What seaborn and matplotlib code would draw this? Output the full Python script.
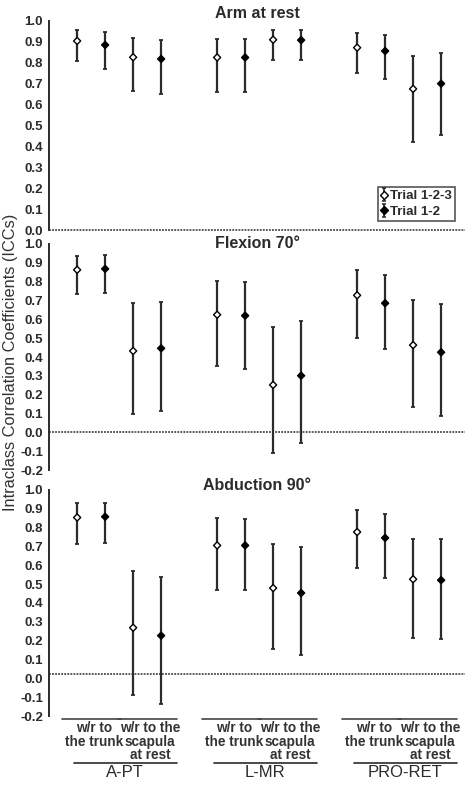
import numpy as np
import pandas as pd
import matplotlib
matplotlib.use("Agg")
import matplotlib.pyplot as plt
import matplotlib.transforms as mtransforms
from matplotlib.lines import Line2D
import seaborn as sns

# ─── Data ───
muscles = ["A-PT", "L-MR", "PRO-RET"]
references = ["w/r to\nthe trunk", "w/r to the\nscapula\nat rest"]
trials = ["Trial 1-2-3", "Trial 1-2"]
panels = ["Arm at rest", "Flexion 70°", "Abduction 90°"]

# order: muscle -> reference -> trial
rest_icc = [0.904, 0.885, 0.826, 0.818, 0.825, 0.825, 0.910, 0.908, 0.872, 0.856, 0.675, 0.700]
rest_lo = [0.809, 0.769, 0.667, 0.652, 0.660, 0.660, 0.815, 0.815, 0.750, 0.720, 0.422, 0.455]
rest_hi = [0.956, 0.945, 0.916, 0.910, 0.913, 0.913, 0.957, 0.957, 0.940, 0.932, 0.834, 0.845]

flex_icc = [0.862, 0.867, 0.432, 0.446, 0.624, 0.619, 0.252, 0.301, 0.727, 0.685, 0.463, 0.425]
flex_lo = [0.733, 0.741, 0.100, 0.112, 0.350, 0.339, -0.107, -0.056, 0.502, 0.441, 0.133, 0.086]
flex_hi = [0.934, 0.942, 0.684, 0.691, 0.802, 0.799, 0.558, 0.593, 0.860, 0.837, 0.703, 0.680]

abd_icc = [0.853, 0.857, 0.269, 0.227, 0.705, 0.705, 0.479, 0.453, 0.776, 0.745, 0.526, 0.521]
abd_lo = [0.715, 0.719, -0.089, -0.135, 0.470, 0.470, 0.154, 0.122, 0.586, 0.531, 0.215, 0.208]
abd_hi = [0.928, 0.932, 0.570, 0.540, 0.850, 0.844, 0.712, 0.698, 0.891, 0.871, 0.740, 0.740]

zero_lines = [0.0, 0.0, 0.023]


def long_frame(icc, lo, hi):
    rows = []
    i = 0
    for m in range(len(muscles)):
        for r in range(len(references)):
            for t in range(len(trials)):
                rows.append({"pos": m * 5 + r * 2 + t, "trial": trials[t],
                             "icc": icc[i], "lo": lo[i], "hi": hi[i]})
                i += 1
    return pd.DataFrame(rows)


frames = [long_frame(rest_icc, rest_lo, rest_hi),
          long_frame(flex_icc, flex_lo, flex_hi),
          long_frame(abd_icc, abd_lo, abd_hi)]

# ─── Plot ───
sns.set_style("white")
plt.rcParams['font.family'] = ['Liberation Sans', 'DejaVu Sans']
dark = "#2b2b2b"

fig = plt.figure(figsize=(4.68, 8.01), dpi=100)
rects = [[0.105, 0.7116, 0.889, 0.2634],
         [0.105, 0.4120, 0.889, 0.2846],
         [0.105, 0.1049, 0.889, 0.2846]]
ylims = [(0.0, 1.0), (-0.2, 1.0), (-0.2, 1.0)]
title_y = [1.035, 1.0, 1.025]

axes = []
for k, rect in enumerate(rects):
    ax = fig.add_axes(rect)
    axes.append(ax)
    df = frames[k]
    for trial in trials:
        d = df[df["trial"] == trial]
        ax.errorbar(d["pos"], d["icc"],
                    yerr=[d["icc"] - d["lo"], d["hi"] - d["icc"]],
                    fmt="none", ecolor=dark, elinewidth=1.6, capsize=1.7,
                    capthick=1.3, zorder=2)
    sns.scatterplot(data=df, x="pos", y="icc", hue="trial", style="trial",
                    markers={trials[0]: "D", trials[1]: "D"},
                    palette={trials[0]: "white", trials[1]: "black"},
                    edgecolor="black", linewidth=1.0, s=13, legend=False,
                    ax=ax, zorder=3)
    ax.axhline(zero_lines[k], color=dark, linestyle=(0, (1.2, 0.8)), lw=1.1, zorder=1)
    lo, hi = ylims[k]
    ax.set_ylim(lo - 0.004, hi + 0.004)
    ax.set_xlim(-1.0, 13.86)
    ax.set_yticks(np.round(np.arange(lo, hi + 0.01, 0.1), 1))
    ax.yaxis.set_major_formatter(matplotlib.ticker.FormatStrFormatter("%.1f"))
    ax.set_xticks([])
    ax.set_xlabel("")
    ax.set_ylabel("")
    for s in ["top", "right", "bottom"]:
        ax.spines[s].set_visible(False)
    ax.spines["left"].set_bounds(lo, hi)
    ax.spines["left"].set_color(dark)
    ax.spines["left"].set_linewidth(1.4)
    ax.tick_params(axis="y", direction="out", length=3, width=1.0, color=dark,
                   labelsize=9.5, labelcolor=dark, pad=1.5)
    for lbl in ax.get_yticklabels():
        lbl.set_fontweight("bold")
    ax.patch.set_alpha(0)
    ax.text(0.5, title_y[k], panels[k],
            transform=mtransforms.blended_transform_factory(ax.transAxes, ax.transData),
            ha="center", va="center", fontsize=11.5, fontweight="bold", color=dark)

# legend in first panel
ax0 = axes[0]
proxies = []
for t, fc in zip(trials, ["white", "black"]):
    eb = ax0.errorbar([np.nan], [np.nan], yerr=[[0.1]], fmt="none", ecolor=dark,
                      elinewidth=1.3, capsize=1.5, capthick=1.1)
    mk = Line2D([], [], marker="D", linestyle="none", markersize=3.6,
                markerfacecolor=fc, markeredgecolor="black", markeredgewidth=1.0)
    proxies.append((eb, mk))
leg = ax0.legend(proxies, trials, loc="lower left", bbox_to_anchor=(0.79, 0.047),
                 frameon=True, fancybox=False, handlelength=0.5, handletextpad=0.15,
                 borderpad=0.25, labelspacing=0.25, borderaxespad=0,
                 prop={"weight": "bold", "size": 9.5})
leg.get_frame().set_edgecolor(dark)
leg.get_frame().set_linewidth(1.2)
for txt in leg.get_texts():
    txt.set_color(dark)

# category labels under the last panel
ax3 = axes[2]
trans = mtransforms.blended_transform_factory(ax3.transData, ax3.transAxes)
for m, muscle in enumerate(muscles):
    g = m * 5
    for r, ref in enumerate(references):
        start = g + r * 2
        ax3.plot([start - 0.55, start + 1.55], [-0.009, -0.009], color="#444444", lw=1.2,
                 transform=trans, clip_on=False)
        ax3.text(start + 0.6, -0.018, ref, transform=trans, ha="center", va="top",
                 fontsize=9.8, fontweight="bold", color="#333333", linespacing=0.95,
                 multialignment="center")
    ax3.plot([g - 0.1, g + 3.55], [-0.202, -0.202], color=dark, lw=1.2,
             transform=trans, clip_on=False)
    ax3.text(g + 1.7, -0.21, muscle, transform=trans, ha="center", va="top",
             fontsize=12, color=dark)

fig.text(0.022, 0.548, "Intraclass Correlation Coefficients (ICCs)", rotation=90,
         ha="center", va="center", fontsize=11.8, color="#333333")

fig.savefig("out.png", dpi=100)
